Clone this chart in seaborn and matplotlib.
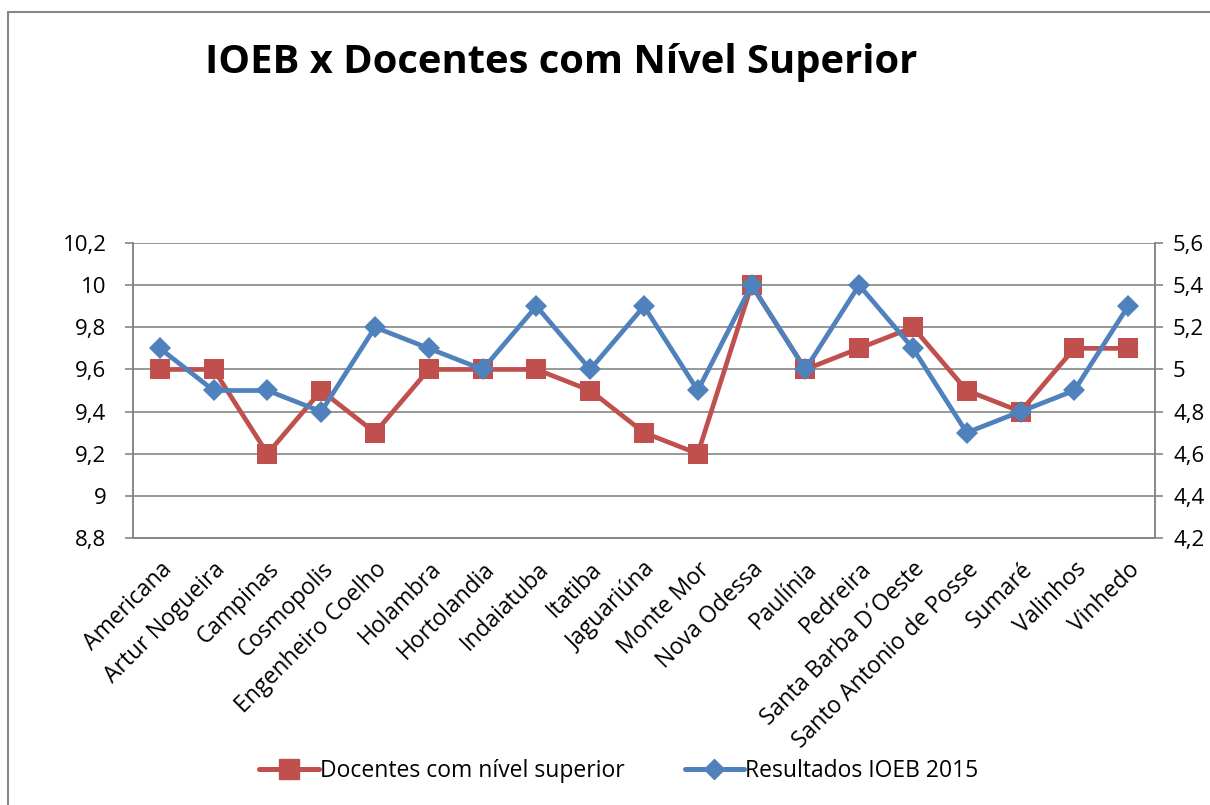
import matplotlib
matplotlib.use("Agg")
import matplotlib.pyplot as plt
from matplotlib.lines import Line2D
from matplotlib.ticker import FixedLocator, FuncFormatter
import seaborn as sns
import pandas as pd
import numpy as np

categories = ["Americana", "Artur Nogueira", "Campinas", "Cosmopolis", "Engenheiro Coelho",
              "Holambra", "Hortolandia", "Indaiatuba", "Itatiba", "Jaguariúna", "Monte Mor",
              "Nova Odessa", "Paulínia", "Pedreira", "Santa Barba D´Oeste",
              "Santo Antonio de Posse", "Sumaré", "Valinhos", "Vinhedo"]
docentes = [9.6, 9.6, 9.2, 9.5, 9.3, 9.6, 9.6, 9.6, 9.5, 9.3, 9.2, 10.0, 9.6, 9.7, 9.8, 9.5, 9.4, 9.7, 9.7]
ioeb = [5.1, 4.9, 4.9, 4.8, 5.2, 5.1, 5.0, 5.3, 5.0, 5.3, 4.9, 5.4, 5.0, 5.4, 5.1, 4.7, 4.8, 4.9, 5.3]
left_ticks = [8.8, 9.0, 9.2, 9.4, 9.6, 9.8, 10.0, 10.2]
right_ticks = [4.2, 4.4, 4.6, 4.8, 5.0, 5.2, 5.4, 5.6]

RED = "#C0504D"
BLUE = "#4F81BD"
GRAY = "#868686"

sns.set_theme(style="white")
plt.rcParams["font.family"] = ["Open Sans", "DejaVu Sans"]
plt.rcParams["text.color"] = "black"
plt.rcParams["xtick.labelcolor"] = "black"
plt.rcParams["ytick.labelcolor"] = "black"

df = pd.DataFrame({"idx": np.arange(len(categories)), "cat": categories,
                   "docentes": docentes, "ioeb": ioeb})

fig = plt.figure(figsize=(12.1, 8.05), dpi=100)
ax = fig.add_axes([133/1210, 1-538/805, (1155-133)/1210, (538-243)/805])
ax2 = ax.twinx()

sns.lineplot(data=df, x="idx", y="docentes", ax=ax, color=RED, linewidth=3.4,
             marker="s", markersize=15, markeredgecolor=RED, markeredgewidth=0)
sns.lineplot(data=df, x="idx", y="ioeb", ax=ax2, color=BLUE, linewidth=3.4,
             marker="D", markersize=11, markeredgecolor=BLUE, markeredgewidth=0)

fmt = FuncFormatter(lambda v, p: ("%g" % round(v, 1)).replace(".", ","))
ax.set_ylim(8.8, 10.2)
ax2.set_ylim(4.2, 5.6)
ax.yaxis.set_major_locator(FixedLocator(left_ticks))
ax2.yaxis.set_major_locator(FixedLocator(right_ticks))
ax.yaxis.set_major_formatter(fmt)
ax2.yaxis.set_major_formatter(fmt)
ax.set_xlim(-0.5, len(categories) - 0.5)

ax.set_xticks(np.arange(len(categories)))
ax.set_xticklabels(categories, rotation=45, ha="right", rotation_mode="anchor", fontsize=16.5)
ax.set_xticks(np.arange(len(categories) + 1) - 0.5, minor=True)
ax.tick_params(axis="x", which="major", length=0, pad=14)
ax.tick_params(axis="x", which="minor", length=6, color=GRAY, width=1.2, direction="out")
ax.tick_params(axis="y", length=6, color=GRAY, width=1.2, direction="out", labelsize=16, pad=13)
ax2.tick_params(axis="y", length=6, color=GRAY, width=1.2, direction="out", labelsize=16, pad=7)

ax.grid(axis="y", color=GRAY, linewidth=1.2)
ax.grid(axis="x", visible=False)
ax2.grid(False)
for a in (ax, ax2):
    a.set_xlabel("")
    a.set_ylabel("")
    a.spines["top"].set_visible(False)
    for s in ("left", "right", "bottom"):
        a.spines[s].set_color(GRAY)
        a.spines[s].set_linewidth(1.2)
ax.set_zorder(1)
ax2.set_zorder(2)
ax.patch.set_visible(False)
ax2.patch.set_visible(False)

fig.text(205/1210, 1-62/805, "IOEB x Docentes com Nível Superior", fontsize=28.7,
         fontweight="bold", ha="left", va="center")

handles = [Line2D([], [], color=RED, linewidth=3.6, marker="s", markersize=14),
           Line2D([], [], color=BLUE, linewidth=3.6, marker="D", markersize=10)]
fig.legend(handles, ["Docentes com nível superior", "Resultados IOEB 2015"],
           loc="center", bbox_to_anchor=(619/1210, 1-771/805), ncol=2, frameon=False,
           fontsize=16.5, handlelength=2.6, handletextpad=0.05, columnspacing=2.6)

# chart border (left and top edges visible)
fig.add_artist(Line2D([8/1210, 8/1210], [0, 1-12/805], transform=fig.transFigure, color=GRAY, linewidth=1.5))
fig.add_artist(Line2D([8/1210, 1], [1-12/805, 1-12/805], transform=fig.transFigure, color=GRAY, linewidth=1.5))

fig.savefig("out.png", dpi=100)
